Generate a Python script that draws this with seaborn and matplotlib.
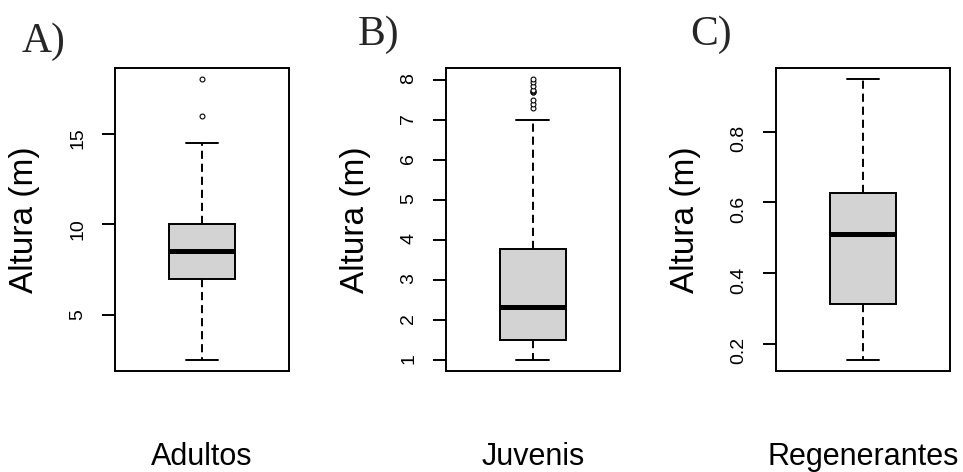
import pandas as pd
import seaborn as sns
import matplotlib.pyplot as plt

# Alturas (m) por grupo (quartis, bigodes e outliers)
adultos = [2.55, 4.5, 6.0, 7.0, 7.5, 8.0, 8.55, 9.0, 9.5, 10.0, 14.5, 16.0, 18.0]
juvenis = [1.0, 1.0, 1.1, 1.1, 1.2, 1.2, 1.3, 1.3, 1.4, 1.4, 1.45,
           1.5,
           1.6, 1.7, 1.8, 1.8, 1.9, 2.0, 2.0, 2.1, 2.2, 2.3,
           2.32,
           2.4, 2.5, 2.7, 2.8, 3.0, 3.1, 3.3, 3.4, 3.5, 3.7,
           3.78,
           7.0,
           7.3, 7.4, 7.5, 7.7, 7.7, 7.72, 7.75, 7.85, 7.95, 8.02]
regenerantes = [0.155, 0.22, 0.314, 0.42, 0.51, 0.57, 0.625, 0.78, 0.948]

grupos = ['Adultos', 'Juvenis', 'Regenerantes']
letras = ['A)', 'B)', 'C)']
ticks_a = [5, 10, 15]
ticks_b = [1, 2, 3, 4, 5, 6, 7, 8]
ticks_c = [0.2, 0.4, 0.6, 0.8]

df = pd.DataFrame({
    'grupo': ['Adultos'] * len(adultos) + ['Juvenis'] * len(juvenis)
             + ['Regenerantes'] * len(regenerantes),
    'altura': adultos + juvenis + regenerantes,
})

sns.set_style('white')
plt.rcParams['font.family'] = ['Liberation Sans', 'DejaVu Sans']

fig = plt.figure(figsize=(9.63, 4.72), dpi=100)

lefts = [0.1194, 0.4628, 0.8055]
letra_pos = [(0.0225, 0.890), (0.372, 0.905), (0.7165, 0.905)]
ticks = [ticks_a, ticks_b, ticks_c]

for i, g in enumerate(grupos):
    ax = fig.add_axes([lefts[i], 0.214, 0.181, 0.642])
    sub = df[df['grupo'] == g]
    sns.boxplot(data=sub, x='grupo', y='altura', ax=ax,
                color='#d3d3d3', linecolor='black', linewidth=1.4,
                width=0.375, saturation=1, fliersize=3.5,
                whiskerprops=dict(linestyle=(0, (4.2, 2.5))),
                medianprops=dict(linewidth=3.6),
                flierprops=dict(marker='o', markerfacecolor='white',
                                markeredgecolor='black', markeredgewidth=0.8))

    # limites como no R (4% de folga)
    lo, hi = sub['altura'].min(), sub['altura'].max()
    pad = 0.04 * (hi - lo)
    ax.set_xlim(-0.5, 0.5)
    ax.set_ylim(lo - pad, hi + pad)
    ax.set_yticks(ticks[i])

    ax.tick_params(axis='y', left=True, labelrotation=90, length=9.4, width=1.4,
                   pad=11, labelsize=14, color='black', labelcolor='black')
    ax.tick_params(axis='x', length=0, pad=51, labelsize=22, labelcolor='black')
    ax.set_xlabel('')
    ax.set_ylabel('Altura (m)', fontsize=24, color='black')
    ax.yaxis.set_label_coords(-0.43, 0.5)
    for s in ax.spines.values():
        s.set_visible(True)
        s.set_linewidth(1.4)
        s.set_color('black')

    fig.text(letra_pos[i][0], letra_pos[i][1], letras[i],
             family=['Liberation Serif', 'DejaVu Serif'], fontsize=30,
             ha='left', va='baseline')

fig.savefig('out.png', dpi=100)
